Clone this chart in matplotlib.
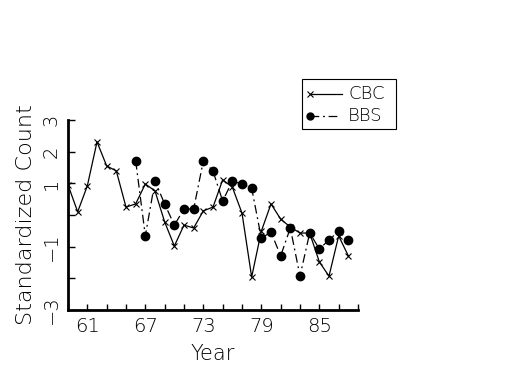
import matplotlib
matplotlib.use("Agg")
import matplotlib.pyplot as plt
from matplotlib.lines import Line2D
from matplotlib.patches import Rectangle
from matplotlib import font_manager

names = sorted({(f.name, f.weight) for f in font_manager.fontManager.ttflist})
light = [n for n in names if (isinstance(n[1], int) and n[1] < 400) or n[1] in ('light', 'ultralight', 'extra light')]

fam = ['DejaVu Sans']
wt = 'normal'
for n, w in light:
    if n in ('DejaVu Sans', 'Lato', 'Open Sans', 'Inter', 'Roboto', 'Noto Sans'):
        fam = [n, 'DejaVu Sans']
        wt = w
        break
plt.rcParams['font.family'] = fam
plt.rcParams['font.weight'] = wt
plt.rcParams['axes.labelweight'] = wt

cbc_years = list(range(1959, 1989))
cbc_values = [0.95, 0.10, 0.92, 2.31, 1.55, 1.39, 0.25, 0.35, 0.98, 0.76,
              -0.22, -0.98, -0.32, -0.41, 0.13, 0.25, 1.11, 0.88, 0.06, -1.96,
              -0.51, 0.35, -0.13, -0.38, -0.57, -0.57, -1.48, -1.93, -0.66, -1.29]

bbs_years = list(range(1966, 1989))
bbs_values = [1.71, -0.66, 1.07, 0.35, -0.32, 0.19, 0.19, 1.71, 1.39, 0.44,
              1.07, 0.98, 0.85, -0.73, -0.54, -1.29, -0.41, -1.93, -0.57, -1.07,
              -0.79, -0.51, -0.79]

x_ticks = list(range(1959, 1990, 2))
x_labels_shown = {1961: "61", 1967: "67", 1973: "73", 1979: "79", 1985: "85"}
y_ticks = [-3, -2, -1, 0, 1, 2, 3]
y_labels_shown = {3: "3", 2: "2", 1: "1", -1: "\u22121", -3: "\u22123"}

fig = plt.figure(figsize=(5.25, 3.75), dpi=100)
ax = fig.add_axes([68/525, 1 - 310/375, 290/525, 190/375])

ax.plot(cbc_years, cbc_values, color='black', lw=0.9, marker='x', ms=4.5, mew=0.8)
ax.plot(bbs_years, bbs_values, color='black', lw=0.9, linestyle=(0, (7, 3, 1.5, 3)),
        marker='o', ms=6, mfc='black', mec='black')

ax.set_xlim(1959, 1989)
ax.set_ylim(-3, 3)
for s in ['top', 'right']:
    ax.spines[s].set_visible(False)
for s in ['left', 'bottom']:
    ax.spines[s].set_linewidth(2)

ax.set_xticks(x_ticks)
ax.set_xticklabels([x_labels_shown.get(t, "") for t in x_ticks], fontsize=14)
ax.set_yticks(y_ticks)
ax.set_yticklabels([y_labels_shown.get(t, "") for t in y_ticks], fontsize=14,
                   rotation=90, va='center')
ax.tick_params(axis='x', direction='in', length=4, width=1, pad=5)
ax.tick_params(axis='y', direction='in', length=5, width=1, pad=5)

ax.set_xlabel("Year", fontsize=15, labelpad=6, fontweight=wt)
ax.set_ylabel("Standardized Count", fontsize=16, labelpad=4, fontweight=wt)

# legend box
fig.add_artist(Rectangle((302/525, 1 - 129/375), 94/525, 50/375,
                         transform=fig.transFigure, fill=False, lw=0.8, ec='black'))
fig.add_artist(Line2D([310/525, 342/525], [1 - 94/375, 1 - 94/375], transform=fig.transFigure,
                      color='black', lw=0.9))
fig.add_artist(Line2D([310/525], [1 - 94/375], transform=fig.transFigure,
                      color='black', marker='x', ms=4, mew=0.8))
fig.add_artist(Line2D([310/525, 337/525], [1 - 116/375, 1 - 116/375], transform=fig.transFigure,
                      color='black', lw=0.9, linestyle=(0, (7, 3, 1.5, 3))))
fig.add_artist(Line2D([310/525], [1 - 116/375], transform=fig.transFigure,
                      color='black', marker='o', ms=5, mfc='black'))
fig.text(348/525, 1 - 94/375, "CBC", fontsize=13, va='center', ha='left')
fig.text(348/525, 1 - 116/375, "BBS", fontsize=13, va='center', ha='left')

fig.savefig("out.png", dpi=100)
